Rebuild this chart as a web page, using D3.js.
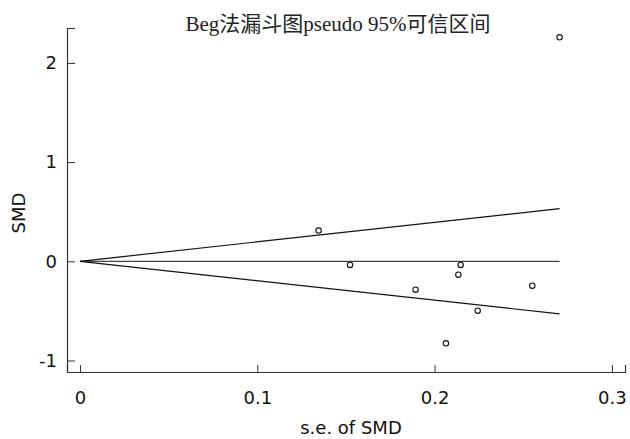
<!DOCTYPE html>
<html>
<head>
<meta charset="utf-8">
<script src="https://cdn.jsdelivr.net/npm/d3@7/dist/d3.min.js"></script>
<style>
  html, body { margin: 0; padding: 0; background: #fff; }
  svg { display: block; }
</style>
</head>
<body>
<svg id="chart" width="630" height="439"></svg>
<script>
// Study-level standard errors and standardized mean differences
const se  = [0.1346, 0.1523, 0.2147, 0.2134, 0.1893, 0.2551, 0.2243, 0.2064, 0.2705];
const smd = [0.31, -0.037, -0.037, -0.135, -0.286, -0.246, -0.498, -0.827, 2.258];

// Pooled estimate and pseudo 95% limits
const pooled = 0;
const z = 1.96;

const xTicks = [0, 0.1, 0.2, 0.3];
const yTicks = [-1, 0, 1, 2];

const titleText = "Beg法漏斗图pseudo 95%可信区间";
const xLabel = "s.e. of SMD";
const yLabel = "SMD";

const svg = d3.select("#chart");
const plotLeft = 67, plotRight = 625, plotTop = 28, plotBottom = 372;

const x = d3.scaleLinear().domain([-0.00733, 0.3074]).range([plotLeft, plotRight]);
const y = d3.scaleLinear().domain([-1.116, 2.352]).range([plotBottom, plotTop]);

const axisColor = "#333";
const tickFont = "'DejaVu Sans', Verdana, sans-serif";

// Axes (ticks point into the plot)
const xAxis = svg.append("g").attr("transform", `translate(0,${plotBottom})`)
  .call(d3.axisBottom(x).tickValues(xTicks).tickSize(-7).tickPadding(19)
    .tickFormat(d => String(d)));
const yAxis = svg.append("g").attr("transform", `translate(${plotLeft},0)`)
  .call(d3.axisLeft(y).tickValues(yTicks).tickSize(-8).tickPadding(10)
    .tickFormat(d => String(d)));

[xAxis, yAxis].forEach(g => {
  g.select(".domain").attr("stroke", axisColor).attr("stroke-width", 1.2);
  g.selectAll(".tick line").attr("stroke", axisColor);
  g.selectAll(".tick text").attr("fill", "#111")
    .style("font-family", tickFont).style("font-size", "18px");
});

// Funnel: limits drawn out to the largest standard error
const seMax = d3.max(se);
const funnel = svg.append("g").attr("fill", "none");
funnel.append("line")
  .attr("x1", x(0)).attr("y1", y(pooled))
  .attr("x2", x(seMax)).attr("y2", y(pooled))
  .attr("stroke", "#444").attr("stroke-width", 1.2);
[1, -1].forEach(s => {
  funnel.append("line")
    .attr("x1", x(0)).attr("y1", y(pooled))
    .attr("x2", x(seMax)).attr("y2", y(pooled + s * z * seMax))
    .attr("stroke", "#111").attr("stroke-width", 1.2);
});

// Study points
svg.append("g").selectAll("circle")
  .data(se.map((d, i) => [d, smd[i]]))
  .join("circle")
  .attr("cx", d => x(d[0]))
  .attr("cy", d => y(d[1]))
  .attr("r", 2.7)
  .attr("fill", "#fff")
  .attr("stroke", "#111")
  .attr("stroke-width", 1.1);

// Title and axis titles
svg.append("text")
  .attr("x", 338).attr("y", 31)
  .attr("text-anchor", "middle")
  .style("font-family", "'Liberation Serif', 'Noto Sans CJK SC', serif")
  .style("font-size", "21px")
  .attr("fill", "#222")
  .text(titleText);

svg.append("text")
  .attr("x", 351).attr("y", 434)
  .attr("text-anchor", "middle")
  .style("font-family", tickFont).style("font-size", "18px")
  .attr("fill", "#111")
  .text(xLabel);

svg.append("text")
  .attr("transform", `translate(25,213) rotate(-90)`)
  .attr("text-anchor", "middle")
  .style("font-family", tickFont).style("font-size", "18px")
  .attr("fill", "#111")
  .text(yLabel);
</script>
</body>
</html>
